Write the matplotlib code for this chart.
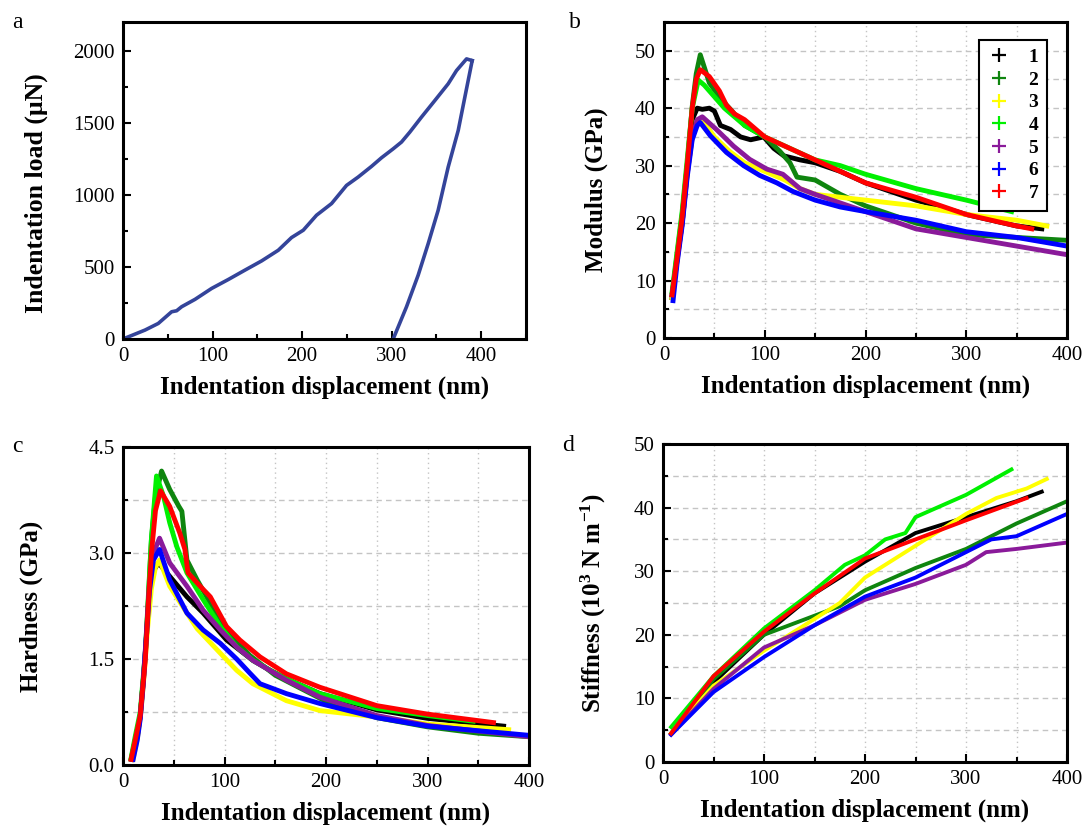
import matplotlib
matplotlib.use("Agg")
import matplotlib.pyplot as plt
from matplotlib.lines import Line2D
from matplotlib.ticker import MultipleLocator, FormatStrFormatter

plt.rcParams['font.family'] = ['Liberation Serif', 'DejaVu Serif']
plt.rcParams['mathtext.fontset'] = 'custom'
plt.rcParams['mathtext.rm'] = 'Liberation Serif:bold'
plt.rcParams['mathtext.bf'] = 'Liberation Serif:bold'
plt.rcParams['mathtext.it'] = 'Liberation Serif:bold'

# ---------------- data ----------------
# (a) load-displacement
load_x = [0, 24.6, 39.4, 54.3, 59.9, 65.5, 80.4, 99, 117.6, 136.2, 154.8, 173.4, 188.2, 201.3,
          216.1, 232.9, 249.6, 262.6, 277.5, 288.7, 301.7, 311, 320.3, 333.3, 348.2, 363.1,
          372.4, 383.6, 389.9]
load_y = [0, 62, 108, 189, 196, 224, 275, 351, 413, 478, 542, 616, 704, 755,
          859, 940, 1066, 1124, 1198, 1258, 1320, 1367, 1436, 1540, 1655, 1771,
          1863, 1944, 1932]
unload_x = [389.9, 381.7, 374.3, 363.1, 351.9, 340.8, 329.6, 316.6, 301.7]
unload_y = [1932, 1678, 1447, 1193, 893, 662, 443, 224, 0]

labels = ['1', '2', '3', '4', '5', '6', '7']
colors = ['#000000', '#0f850f', '#ffff00', '#00f000', '#8a1a9a', '#0000ff', '#ff0000']

# (b) modulus (GPa)
mod_x1 = [8, 13, 18, 23, 28, 33, 38, 45, 50, 56, 66, 76, 86, 99, 109, 119, 135, 150, 175, 200,
          225, 250, 275, 300, 325, 350, 375]
mod_y1 = [7, 14, 20, 29, 38, 40, 39.8, 40, 39.5, 37, 36.3, 35, 34.5, 35, 33, 31.7, 31, 30.5, 29, 27,
          25.5, 24, 22.8, 21.5, 20.5, 19.5, 19]
mod_x2 = [8, 13, 18, 23, 28, 32, 36, 45, 57, 66, 80, 100, 115, 125, 132, 150, 175, 200, 250, 300,
          350, 400]
mod_y2 = [7.5, 14.5, 21.4, 30, 40.3, 46, 49.3, 44.4, 41.5, 39.8, 37, 35, 32.5, 30.5, 28, 27.5, 25,
          23, 20, 18, 17.5, 17]
mod_x3 = [8, 13, 18, 23, 28, 33, 38, 50, 65, 80, 100, 120, 135, 150, 175, 200, 250, 300, 350, 380]
mod_y3 = [7, 13.5, 20, 28.5, 35, 37.5, 38, 35, 32.5, 30.5, 29, 27.5, 26, 25, 24.5, 24, 23, 21.5,
          20.5, 19.5]
mod_x4 = [8, 13, 18, 23, 28, 34, 40, 50, 60, 70, 80, 100, 125, 150, 175, 200, 250, 300, 345]
mod_y4 = [8, 15, 22, 31, 40, 44.9, 44, 42, 40, 38.5, 37, 35, 33, 31, 30, 28.5, 26, 24, 22]
mod_x5 = [8, 13, 18, 23, 28, 33, 38, 52, 69, 85, 102, 118, 135, 150, 175, 200, 250, 300, 350, 400]
mod_y5 = [7.5, 13.5, 20, 28.5, 35, 38, 38.5, 36.3, 33.4, 31.1, 29.4, 28.5, 26, 25, 23.5, 22, 19,
          17.5, 16, 14.5]
mod_x6 = [9, 13, 18, 23, 28, 33, 36, 46, 62, 79, 95, 112, 128, 150, 175, 200, 250, 300, 350, 400]
mod_y6 = [6.5, 13, 19.5, 28, 34.5, 37, 37.5, 35.2, 32.3, 30, 28.3, 27, 25.5, 24, 22.8, 22, 20.5,
          18.5, 17.5, 16]
mod_x7 = [8, 13, 18, 23, 28, 32, 36, 45, 55, 62, 70, 80, 100, 125, 150, 175, 200, 250, 300, 350, 365]
mod_y7 = [7.5, 14, 21, 30, 40, 45, 46.7, 45.5, 43, 40.5, 39, 38, 35, 33, 31, 29, 27, 24.5, 21.5,
          19.5, 19]

# (c) hardness (GPa)
hard_x1 = [9, 14, 17, 20, 23, 26, 30, 35, 46, 63, 79, 102, 128, 145, 161, 194, 250, 300, 375]
hard_y1 = [0.08, 0.4, 0.7, 1.2, 1.8, 2.4, 2.75, 2.86, 2.67, 2.38, 2.15, 1.77, 1.48, 1.34, 1.22,
           1.01, 0.78, 0.66, 0.55]
hard_x2 = [8, 12, 17, 22, 25, 28, 32, 38, 46, 55, 58, 63, 73, 86, 102, 125, 150, 200, 250, 300,
           350, 400]
hard_y2 = [0.08, 0.35, 0.7, 1.55, 2.34, 3.19, 3.8, 4.16, 3.9, 3.66, 3.59, 2.9, 2.62, 2.29, 1.91,
           1.55, 1.27, 0.9, 0.67, 0.54, 0.45, 0.4]
hard_x3 = [10, 15, 18, 21, 24, 28, 32, 36, 46, 63, 73, 96, 112, 128, 161, 194, 250, 300, 380]
hard_y3 = [0.08, 0.45, 0.8, 1.3, 1.9, 2.5, 2.8, 2.9, 2.53, 2.15, 1.93, 1.58, 1.34, 1.15, 0.91,
           0.77, 0.68, 0.58, 0.5]
hard_x4 = [8, 12, 17, 22, 25, 28, 33, 40, 46, 53, 63, 79, 96, 112, 128, 145, 161, 194, 250, 300, 345]
hard_y4 = [0.1, 0.4, 0.75, 1.6, 2.4, 3.2, 4.09, 3.8, 3.43, 3.09, 2.72, 2.34, 1.96, 1.67, 1.48,
           1.34, 1.22, 1.01, 0.8, 0.7, 0.62]
hard_x5 = [9, 14, 17, 20, 23, 26, 30, 36, 46, 63, 79, 96, 112, 128, 161, 194, 250, 300, 400]
hard_y5 = [0.08, 0.4, 0.7, 1.2, 1.85, 2.55, 3.0, 3.21, 2.86, 2.53, 2.19, 1.91, 1.67, 1.48, 1.2,
           0.96, 0.7, 0.56, 0.4]
hard_x6 = [10, 14, 17, 20, 23, 26, 30, 36, 46, 63, 79, 96, 112, 125, 135, 161, 194, 250, 300, 400]
hard_y6 = [0.08, 0.35, 0.65, 1.15, 1.8, 2.45, 2.9, 3.05, 2.62, 2.15, 1.91, 1.72, 1.5, 1.3, 1.15,
           1.01, 0.87, 0.67, 0.55, 0.42]
hard_x7 = [8, 12, 17, 22, 25, 28, 32, 37, 46, 56, 61, 64, 76, 86, 102, 115, 135, 161, 194, 250,
           300, 365]
hard_y7 = [0.08, 0.35, 0.7, 1.5, 2.3, 3.0, 3.6, 3.88, 3.66, 3.28, 3.05, 2.72, 2.53, 2.38, 1.96,
           1.77, 1.53, 1.29, 1.1, 0.84, 0.72, 0.6]

# (d) stiffness (10^3 N/m)
stif_x1 = [8, 50, 100, 150, 200, 250, 300, 350, 375]
stif_y1 = [4.5, 12.5, 20, 26.5, 31.5, 36, 38.5, 41, 42.5]
stif_x2 = [8, 50, 100, 150, 175, 200, 250, 300, 350, 400]
stif_y2 = [4.5, 13, 20, 23, 24.5, 27, 30.5, 33.5, 37.5, 41]
stif_x3 = [8, 50, 100, 150, 175, 200, 250, 300, 330, 360, 380]
stif_y3 = [4.5, 12, 17.5, 22.5, 25, 29, 34, 39, 41.5, 43, 44.5]
stif_x4 = [8, 50, 100, 150, 180, 200, 220, 240, 250, 300, 345]
stif_y4 = [5.5, 13.5, 21, 27, 31, 32.5, 35, 36, 38.5, 42, 46]
stif_x5 = [8, 50, 100, 150, 200, 250, 300, 320, 350, 400]
stif_y5 = [4.3, 11.5, 18, 21.5, 25.5, 28, 31, 33, 33.5, 34.5]
stif_x6 = [8, 50, 100, 150, 200, 250, 300, 325, 350, 400]
stif_y6 = [4.3, 11, 16.5, 21.5, 26, 29, 33, 35, 35.5, 39]
stif_x7 = [8, 50, 100, 150, 200, 250, 300, 360]
stif_y7 = [4.5, 13.5, 20.5, 26.5, 32, 35, 38, 41.5]

mod_series = [(mod_x1, mod_y1), (mod_x2, mod_y2), (mod_x3, mod_y3), (mod_x4, mod_y4),
              (mod_x5, mod_y5), (mod_x6, mod_y6), (mod_x7, mod_y7)]
hard_series = [(hard_x1, hard_y1), (hard_x2, hard_y2), (hard_x3, hard_y3), (hard_x4, hard_y4),
               (hard_x5, hard_y5), (hard_x6, hard_y6), (hard_x7, hard_y7)]
stif_series = [(stif_x1, stif_y1), (stif_x2, stif_y2), (stif_x3, stif_y3), (stif_x4, stif_y4),
               (stif_x5, stif_y5), (stif_x6, stif_y6), (stif_x7, stif_y7)]

# ---------------- figure ----------------
W, H = 1087, 834
fig = plt.figure(figsize=(W / 100, H / 100), dpi=100)

def rect(l, t, r, b):
    return [l / W, 1 - b / H, (r - l) / W, (b - t) / H]

ax_a = fig.add_axes(rect(123, 22, 526, 339))
ax_b = fig.add_axes(rect(664, 22, 1067, 338))
ax_c = fig.add_axes(rect(123, 447, 529, 765))
ax_d = fig.add_axes(rect(663, 444, 1067, 762))

TICK_FS = 15
LAB_FS = 18

def style(ax, grid=True):
    for s in ax.spines.values():
        s.set_linewidth(2.2)
    ax.tick_params(which='both', direction='in', top=False, right=False,
                   labelsize=TICK_FS, width=1.5, pad=6)
    ax.tick_params(which='major', length=6)
    ax.tick_params(which='minor', length=3.5)
    if grid:
        ax.grid(True, which='both', axis='y', ls=(0, (4, 3)), color='#c4c4c4', lw=1.0)
        ax.grid(True, which='both', axis='x', ls=(0, (1, 2.5)), color='#c4c4c4', lw=1.0)
        ax.set_axisbelow(True)
    ax.set_xlabel('Indentation displacement (nm)', fontsize=LAB_FS, fontweight='bold', labelpad=7)

# (a)
ax_a.plot(load_x, load_y, color='#34449a', lw=2.6, solid_joinstyle='round')
ax_a.plot(unload_x, unload_y, color='#34449a', lw=2.6, solid_joinstyle='round')
ax_a.set_xlim(0, 450)
ax_a.set_ylim(0, 2200)
ax_a.xaxis.set_major_locator(MultipleLocator(100))
ax_a.xaxis.set_minor_locator(MultipleLocator(50))
ax_a.yaxis.set_major_locator(MultipleLocator(500))
ax_a.yaxis.set_minor_locator(MultipleLocator(250))
style(ax_a, grid=False)
ax_a.set_ylabel('Indentation load (μN)', fontsize=LAB_FS + 0.5, fontweight='bold')
ax_a.yaxis.set_label_coords(-0.185, 0.46)

# (b)
for (x, y), c in zip(mod_series, colors):
    ax_b.plot(x, y, color=c, lw=3.5, solid_joinstyle='round')
ax_b.set_xlim(0, 400)
ax_b.set_ylim(0, 55)
ax_b.xaxis.set_major_locator(MultipleLocator(100))
ax_b.xaxis.set_minor_locator(MultipleLocator(50))
ax_b.yaxis.set_major_locator(MultipleLocator(10))
ax_b.yaxis.set_minor_locator(MultipleLocator(5))
style(ax_b)
ax_b.set_ylabel('Modulus (GPa)', fontsize=LAB_FS, fontweight='bold')
ax_b.yaxis.set_label_coords(-0.14, 0.47)
handles = [Line2D([], [], ls='none', marker='+', color=c, markersize=10, mew=1.6) for c in colors]
leg = ax_b.legend(handles, labels, loc='upper right', bbox_to_anchor=(0.975, 0.975),
                  fancybox=False, edgecolor='black', framealpha=1,
                  prop={'weight': 'bold', 'size': 14}, handlelength=1.2,
                  handletextpad=0.9, labelspacing=0.26, borderpad=0.45)
leg.get_frame().set_linewidth(1.5)

# (c)
for (x, y), c in zip(hard_series, colors):
    ax_c.plot(x, y, color=c, lw=3.5, solid_joinstyle='round')
ax_c.set_xlim(0, 400)
ax_c.set_ylim(0, 4.5)
ax_c.xaxis.set_major_locator(MultipleLocator(100))
ax_c.xaxis.set_minor_locator(MultipleLocator(50))
ax_c.yaxis.set_major_locator(MultipleLocator(1.5))
ax_c.yaxis.set_minor_locator(MultipleLocator(0.75))
ax_c.yaxis.set_major_formatter(FormatStrFormatter('%.1f'))
style(ax_c)
ax_c.set_ylabel('Hardness (GPa)', fontsize=LAB_FS, fontweight='bold')
ax_c.yaxis.set_label_coords(-0.196, 0.5)

# (d)
for (x, y), c in zip(stif_series, colors):
    ax_d.plot(x, y, color=c, lw=2.8, solid_joinstyle='round')
ax_d.set_xlim(0, 400)
ax_d.set_ylim(0, 50)
ax_d.xaxis.set_major_locator(MultipleLocator(100))
ax_d.xaxis.set_minor_locator(MultipleLocator(50))
ax_d.yaxis.set_major_locator(MultipleLocator(10))
ax_d.yaxis.set_minor_locator(MultipleLocator(5))
style(ax_d)
ax_d.set_ylabel(r'Stiffness (10$^{\mathbf{3}}$ N m$^{\mathbf{-1}}$)', fontsize=LAB_FS,
                fontweight='bold')
ax_d.yaxis.set_label_coords(-0.137, 0.5)

# panel letters
fig.text(12 / W, 1 - 28 / H, 'a', fontsize=17)
fig.text(569 / W, 1 - 28 / H, 'b', fontsize=17)
fig.text(12 / W, 1 - 452 / H, 'c', fontsize=17)
fig.text(562 / W, 1 - 451 / H, 'd', fontsize=17)

fig.savefig('out.png', dpi=100)
